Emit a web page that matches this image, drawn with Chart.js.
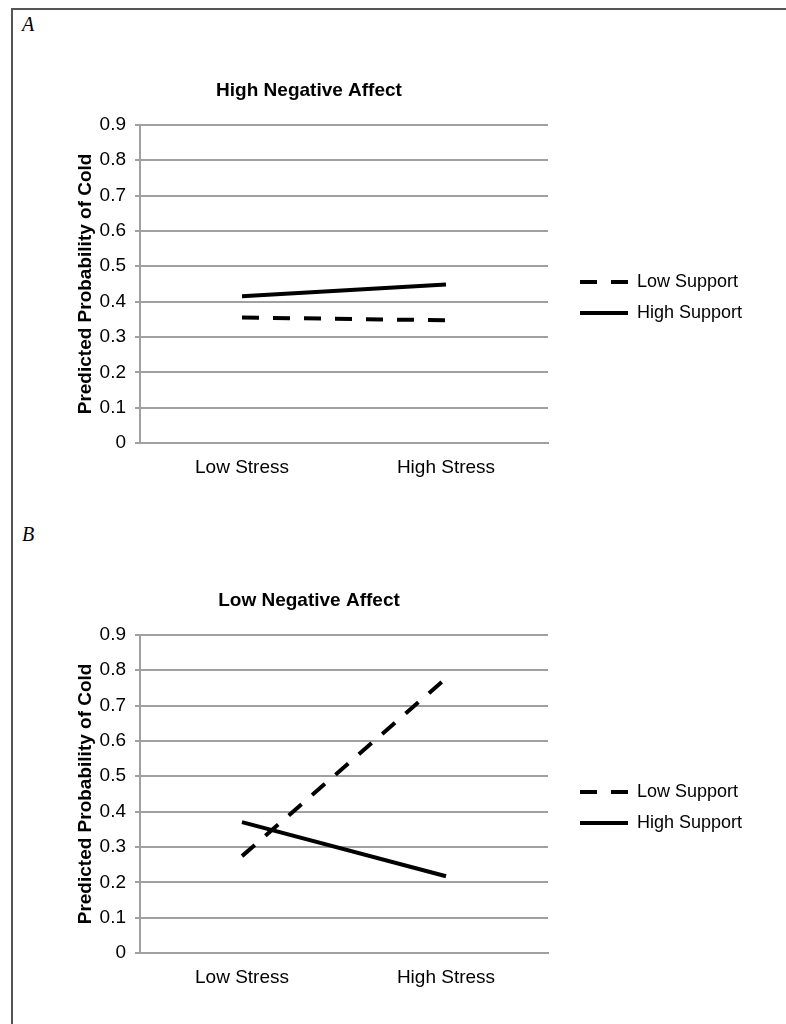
<!DOCTYPE html>
<html>
<head>
<meta charset="utf-8">
<script src="https://cdn.jsdelivr.net/npm/chart.js@4"></script>
<style>
  html, body { margin: 0; padding: 0; background: #fff; overflow: hidden; }
  body { width: 786px; height: 1024px; position: relative; }
  .frame {
    position: absolute; left: 11px; top: 8px; width: 900px; height: 1100px;
    border-top: 2px solid #555; border-left: 2px solid #555;
  }
  .panel-letter {
    position: absolute; left: 22px;
    font: italic 20px "Liberation Serif", "DejaVu Serif", serif; color: #000;
  }
  canvas { position: absolute; left: 0; }
</style>
</head>
<body>
<div class="frame"></div>
<div class="panel-letter" style="top: 13px;">A</div>
<div class="panel-letter" style="top: 523px;">B</div>
<canvas id="chartA" width="786" height="410" style="top: 70px;"></canvas>
<canvas id="chartB" width="786" height="410" style="top: 580px;"></canvas>

<script>
// Data
const categories = ['Low Stress', 'High Stress'];
const seriesNames = ['Low Support', 'High Support'];
const yTickLabels = ['0', '0.1', '0.2', '0.3', '0.4', '0.5', '0.6', '0.7', '0.8', '0.9'];

// Panel A: High Negative Affect
const highNALowSupport = [0.355, 0.347];
const highNAHighSupport = [0.415, 0.448];

// Panel B: Low Negative Affect
const lowNALowSupport = [0.274, 0.777];
const lowNAHighSupport = [0.37, 0.217];

Chart.defaults.font.family = '"Liberation Sans", Arial, sans-serif';
Chart.defaults.color = '#000';

const gridGray = '#a0a0a0';

// legend drawn to the right of the plot, like the Excel original
const sideLegend = {
  id: 'sideLegend',
  afterDraw(chart) {
    const { ctx, chartArea } = chart;
    const mid = (chartArea.top + chartArea.bottom) / 2;
    chart.data.datasets.forEach((ds, i) => {
      const y = mid - 2 + i * 31;
      const x0 = chartArea.right + 32;
      ctx.save();
      ctx.strokeStyle = ds.borderColor;
      ctx.lineWidth = ds.borderWidth;
      ctx.setLineDash(ds.borderDash || []);
      ctx.beginPath();
      ctx.moveTo(x0, y);
      ctx.lineTo(x0 + 48, y);
      ctx.stroke();
      ctx.setLineDash([]);
      ctx.fillStyle = '#000';
      ctx.font = '18px "Liberation Sans", Arial, sans-serif';
      ctx.textBaseline = 'middle';
      ctx.fillText(ds.label, x0 + 57, y);
      ctx.restore();
    });
  }
};

function makeChart(canvasId, title, lowSupport, highSupport) {
  return new Chart(document.getElementById(canvasId), {
    type: 'line',
    data: {
      labels: categories,
      datasets: [
        {
          label: seriesNames[0],
          data: lowSupport,
          borderColor: '#000',
          borderWidth: 4,
          borderDash: [17, 14],
          pointRadius: 0,
          tension: 0
        },
        {
          label: seriesNames[1],
          data: highSupport,
          borderColor: '#000',
          borderWidth: 4,
          pointRadius: 0,
          tension: 0
        }
      ]
    },
    options: {
      responsive: false,
      animation: false,
      layout: { padding: { left: 70, right: 238, top: 0, bottom: 0 } },
      plugins: {
        legend: { display: false },
        tooltip: { enabled: false },
        title: {
          display: true,
          text: title,
          font: { size: 19, weight: 'bold' },
          padding: { top: 9, bottom: 23 }
        }
      },
      scales: {
        x: {
          offset: true,
          grid: { display: false, drawTicks: false },
          border: { display: true, color: gridGray, width: 2 },
          ticks: { font: { size: 19 }, padding: 13, maxRotation: 0 },
          afterFit(scale) { scale.height = 37; }
        },
        y: {
          min: 0,
          max: 0.9,
          grid: { color: gridGray, lineWidth: 2, tickLength: 5 },
          border: { display: true, color: gridGray, width: 2 },
          ticks: {
            stepSize: 0.1,
            font: { size: 19 },
            padding: 9,
            callback: (value, index) => yTickLabels[index]
          },
          title: {
            display: true,
            text: 'Predicted Probability of Cold',
            font: { size: 19, weight: 'bold' },
            padding: { top: 4, bottom: 4 }
          },
          afterFit(scale) { scale.width = 70; }
        }
      }
    },
    plugins: [sideLegend]
  });
}

makeChart('chartA', 'High Negative Affect', highNALowSupport, highNAHighSupport);
makeChart('chartB', 'Low Negative Affect', lowNALowSupport, lowNAHighSupport);
</script>
</body>
</html>
